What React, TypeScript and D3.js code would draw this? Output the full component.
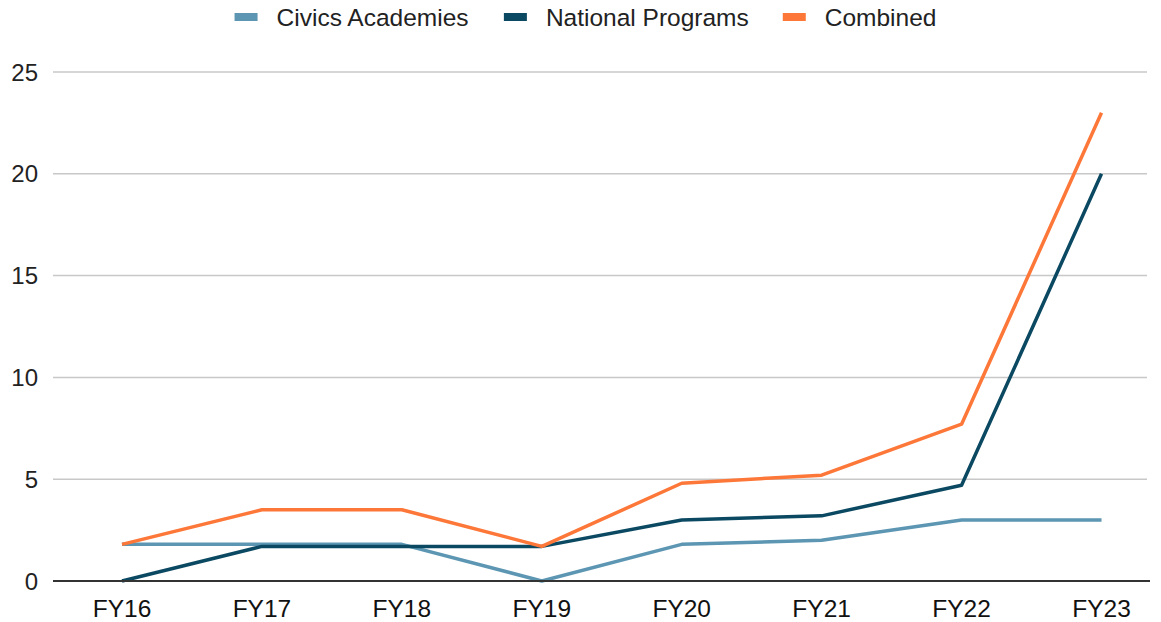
import React from "react";
import * as d3 from "d3";

const categories = ["FY16", "FY17", "FY18", "FY19", "FY20", "FY21", "FY22", "FY23"];
const civicsAcademies = [1.8, 1.8, 1.8, 0, 1.8, 2, 3, 3];
const nationalPrograms = [0, 1.7, 1.7, 1.7, 3, 3.2, 4.7, 20];
const combined = [1.8, 3.5, 3.5, 1.7, 4.8, 5.2, 7.7, 23];
const yTicks = [0, 5, 10, 15, 20, 25];

const seriesList = [
  { name: "Civics Academies", values: civicsAcademies, color: "#5c96b3" },
  { name: "National Programs", values: nationalPrograms, color: "#0b4962" },
  { name: "Combined", values: combined, color: "#fd7739" },
];

const W = 1161;
const H = 622;
const FONT = "'Liberation Sans', Arial, sans-serif";

export default function App() {
  const x = d3.scalePoint<string>().domain(categories).range([122, 1101.5]);
  const y = d3.scaleLinear().domain([0, 25]).range([581, 72]);
  const line = d3
    .line<number>()
    .x((_, i) => x(categories[i]) as number)
    .y((d) => y(d));

  // legend layout
  const fontSize = 24.5;
  const swW = 23;
  const gapSw = 19;
  const gapItem = 34;
  const ctx = typeof document !== "undefined" ? document.createElement("canvas").getContext("2d") : null;
  if (ctx) ctx.font = `${fontSize}px ${FONT}`;
  const widths = seriesList.map((s) => (ctx ? ctx.measureText(s.name).width : s.name.length * 12));
  const total = widths.reduce((a, b) => a + b, 0) + seriesList.length * (swW + gapSw) + (seriesList.length - 1) * gapItem;
  let cx = 585.5 - total / 2;
  const legendItems = seriesList.map((s, i) => {
    const item = { ...s, x: cx };
    cx += swW + gapSw + widths[i] + gapItem;
    return item;
  });

  return (
    <svg width={W} height={H} style={{ position: "absolute", left: 0, top: 0, background: "#fff" }}>
      <rect x={0} y={0} width={W} height={H} fill="#fff" />
      {yTicks.map((t) => (
        <g key={t}>
          {t !== 0 && <line x1={53} x2={1147} y1={y(t)} y2={y(t)} stroke="#c8c8c8" strokeWidth={1.5} />}
          <text x={38} y={y(t)} dy="0.36em" textAnchor="end" fontSize={24} fontFamily={FONT} fill="#222">
            {t}
          </text>
        </g>
      ))}
      {seriesList.map((s) => (
        <path key={s.name} d={line(s.values) || ""} fill="none" stroke={s.color} strokeWidth={3.5} strokeLinejoin="round" />
      ))}
      <line x1={53} x2={1150} y1={y(0)} y2={y(0)} stroke="#333" strokeWidth={2} />
      {categories.map((c) => (
        <text key={c} x={x(c) as number} y={617} textAnchor="middle" fontSize={24.5} fontFamily={FONT} fill="#111">
          {c}
        </text>
      ))}
      {legendItems.map((s) => (
        <g key={s.name}>
          <rect x={s.x} y={13} width={swW} height={8} fill={s.color} />
          <text x={s.x + swW + gapSw} y={26} fontSize={fontSize} fontFamily={FONT} fill="#222">
            {s.name}
          </text>
        </g>
      ))}
    </svg>
  );
}
